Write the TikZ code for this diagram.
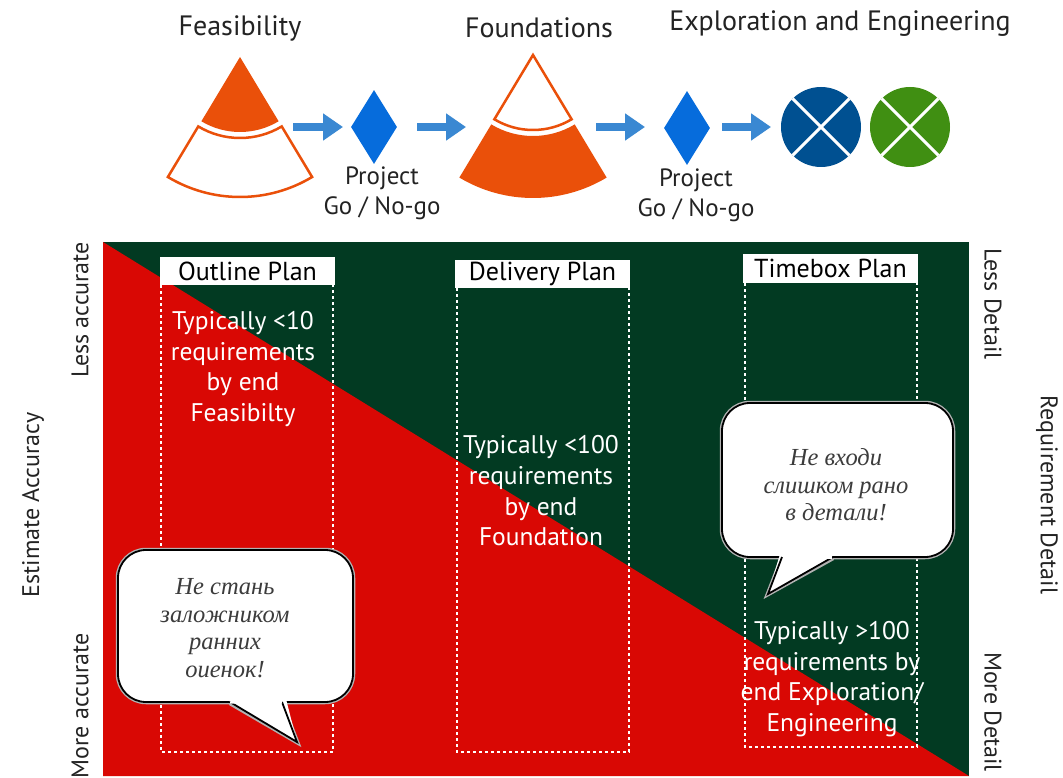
\documentclass[tikz,border=0pt]{standalone}
\usepackage{fontspec}
\setmainfont{PT Sans}
\newfontfamily\cyrfont{Liberation Serif}
\usetikzlibrary{shapes.geometric,arrows.meta,calc}
\definecolor{orng}{RGB}{234,80,10}
\definecolor{arrowblue}{RGB}{58,136,210}
\definecolor{diablue}{RGB}{6,108,220}
\definecolor{cblue}{RGB}{0,80,145}
\definecolor{cgreen}{RGB}{64,143,18}
\definecolor{bgreen}{RGB}{2,58,34}
\definecolor{bred}{RGB}{217,8,4}
\definecolor{txtgray}{RGB}{35,35,35}
\definecolor{bubtxt}{RGB}{60,60,60}
\begin{document}
\begin{tikzpicture}[x=1pt,y=-1pt,
  title/.style={font=\fontsize{28}{32}\selectfont, text=txtgray},
  gonogo/.style={font=\fontsize{25}{30}\selectfont, text=txtgray, align=center},
  flowarrow/.style={arrowblue, line width=8pt, -{Triangle[length=20pt,width=26pt]}},
  gate/.style={diamond, fill=diablue, minimum width=46pt, minimum height=74pt, inner sep=0pt},
  phase/.style={circle, minimum size=80pt, inner sep=0pt},
  planlabel/.style={fill=white, minimum width=175pt, minimum height=28pt, inner sep=0pt, font=\fontsize{26}{30}\selectfont, text=black},
  column/.style={white, line width=2.5pt, dash pattern=on 3pt off 3pt},
  coltext/.style={align=center, text=white, font=\fontsize{25.5}{30.7}\selectfont},
  bubble/.style={draw=black, line width=1.8pt, fill=white, rounded corners=28pt},
  bubshadow/.style={draw=gray!60, line width=4.5pt, rounded corners=28pt},
  bubtext/.style={align=center, text=bubtxt, font=\cyrfont\itshape\fontsize{24.5}{27.5}\selectfont},
  side/.style={font=\fontsize{24}{28}\selectfont, text=txtgray}
]
\useasboundingbox (0,0) rectangle (1063,778);
\fill[white] (0,0) rectangle (1063,778);

% ---------- top row ----------
\node[title] (tfeas) at (240,28) {Feasibility};
\node[title] (tfound) at (539,28) {Foundations};
\node[title] (texpl) at (840,24) {Exploration and Engineering};

% Feasibility cone
\coordinate (fa) at (240,57);
\fill[orng] (fa) -- ($(fa)+(121:75)$) arc[start angle=121,end angle=59,radius=75] -- cycle;
\draw[orng, line width=2.5pt, fill=white, line join=miter]
  ($(fa)+(121:81)$) arc[start angle=121,end angle=59,radius=81]
  -- ($(fa)+(59:140)$) arc[start angle=59,end angle=121,radius=140] -- cycle;

% Foundations cone
\coordinate (fb) at (533,55);
\draw[orng, line width=2.5pt, fill=white, line join=miter]
  (fb) -- ($(fb)+(121:75)$) arc[start angle=121,end angle=59,radius=75] -- cycle;
\fill[orng]
  ($(fb)+(121:81)$) arc[start angle=121,end angle=59,radius=81]
  -- ($(fb)+(59:143)$) arc[start angle=59,end angle=121,radius=143] -- cycle;

% gates
\node[gate] (g1) at (374,127) {};
\node[gate] (g2) at (687,128) {};
\node[gonogo] (p1) at (382,193) {Project\\Go / No-go};
\node[gonogo] (p2) at (696,195) {Project\\Go / No-go};

% phase circles
\node[phase, fill=cblue] (c1) at (821,127) {};
\node[phase, fill=cgreen] (c2) at (910,127) {};
\foreach \c in {c1,c2}{
  \draw[white, line width=3pt] ($(\c)+(45:40)$) -- ($(\c)+(225:40)$);
  \draw[white, line width=3pt] ($(\c)+(135:40)$) -- ($(\c)+(315:40)$);
}

% arrows
\coordinate (a1s) at (293,127); \coordinate (a1e) at (343,127);
\coordinate (a2s) at (417,127); \coordinate (a2e) at (466,127);
\coordinate (a3s) at (596,127); \coordinate (a3e) at (645,127);
\coordinate (a4s) at (722,127); \coordinate (a4e) at (771,127);
\draw[flowarrow] (a1s) -- (a1e);
\draw[flowarrow] (a2s) -- (a2e);
\draw[flowarrow] (a3s) -- (a3e);
\draw[flowarrow] (a4s) -- (a4e);

% ---------- main panel ----------
\fill[bgreen] (103,242) rectangle (969,776);
\fill[bred] (103,242) -- (969,776) -- (103,776) -- cycle;

% columns
\draw[column] (161,285) -- (161,752) -- (333,752) -- (333,285);
\draw[column] (457,288) -- (457,752) -- (629,752) -- (629,288);
\draw[column] (745,283) -- (745,747) -- (917,747) -- (917,283);

\node[planlabel] (lout) at (247.5,271) {Outline Plan};
\node[planlabel] (ldel) at (542.5,273.5) {Delivery Plan};
\node[planlabel] (ltim) at (830.5,268.5) {Timebox Plan};

\node[coltext] (tout) at (243,369) {Typically <10\\requirements\\by end\\Feasibilty};
\node[coltext] (tdel) at (541,491) {Typically <100\\requirements\\by end\\Foundation};
\node[coltext] (ttim) at (832,679) {Typically >100\\requirements by\\end Exploration/\\Engineering};

% speech bubble left
\draw[bubshadow] (118,550) rectangle (353,702);
\draw[bubble] (118,550) rectangle (353,702);
\draw[gray!60, line width=4.5pt, line join=miter] (230,703) -- (297,742) -- (282,703);
\fill[white] (226,699) -- (297,742) -- (286,699) -- cycle;
\draw[black, line width=1.8pt, line join=miter] (230,702) -- (297,742) -- (282,702);
\fill[white] (231,697) -- (281,697) -- (282,703.5) -- (230,703.5) -- cycle;
\node[bubtext] (b1) at (225,628) {Не стань\\заложником\\ранних\\оиенок!};

% speech bubble right
\draw[bubshadow] (722,403) rectangle (953,557);
\draw[bubble] (722,403) rectangle (953,557);
\draw[gray!60, line width=4.5pt, line join=miter] (782,558) -- (768,594) -- (833,558);
\fill[white] (780,554) -- (768,594) -- (836,554) -- cycle;
\draw[black, line width=1.8pt, line join=miter] (782,557) -- (768,594) -- (833,557);
\fill[white] (783,552) -- (832,552) -- (832,558.5) -- (783,558.5) -- cycle;
\node[bubtext] (b2) at (836,485) {Не входи\\слишком рано\\в детали!};

% side labels
\node[side, rotate=90] (ea) at (33,505) {Estimate Accuracy};
\node[side, rotate=90] (la) at (80,310) {Less accurate};
\node[side, rotate=90] (ma) at (80,706) {More accurate};
\node[side, rotate=-90] (ld) at (993,304) {Less Detail};
\node[side, rotate=-90] (rd) at (1047,495) {Requirement Detail};
\node[side, rotate=-90] (md) at (993,712) {More Detail};
\end{tikzpicture}
\end{document}
